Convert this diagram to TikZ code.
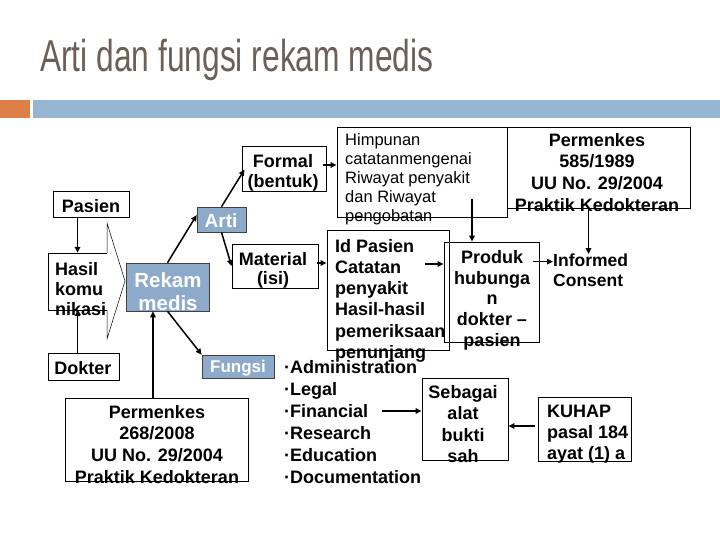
\documentclass[tikz,border=0pt]{standalone}
\usepackage{fontspec}
\setmainfont{Liberation Sans}
\newfontfamily\titlefont[FakeStretch=0.71]{Liberation Sans}
\usetikzlibrary{fit,arrows.meta}
\definecolor{titlegray}{HTML}{6B5F5A}
\definecolor{barorange}{HTML}{DD8047}
\definecolor{barblue}{HTML}{94B6D2}
\definecolor{boxblue}{HTML}{8DAACB}
\begin{document}
\begin{tikzpicture}[x=1pt,y=-1pt,
  box/.style={draw=black, line width=0.9pt, inner sep=0pt},
  bluebox/.style={draw=black!75, line width=0.6pt, fill=boxblue, inner sep=0pt},
  arr/.style={line width=1.5pt, -{Triangle[length=6pt,width=5.5pt]}},
  lbl/.style={inner sep=0pt, align=center, font=\bfseries\fontsize{18}{21.6}\selectfont},
  lbll/.style={inner sep=0pt, align=left, font=\bfseries\fontsize{18}{21.2}\selectfont},
  wlbl/.style={inner sep=0pt, align=center, text=white, font=\bfseries\fontsize{17}{20}\selectfont}]
\useasboundingbox (0,0) rectangle (720,540);
\fill[white] (0,0) rectangle (720,540);
% title and bars
\node[anchor=base west, inner sep=0pt, text=titlegray, font=\titlefont\fontsize{44.7}{50}\selectfont] (title) at (40,72) {Arti dan fungsi rekam medis};
\fill[barorange] (0,100) rectangle (30,118);
\fill[barblue] (33,100) rectangle (720,118);

% boxes
\node[box, fit={(53,191) (129,217)}] (pasien) {};
\node[inner sep=0pt, fit={(48,253) (107,310)}] (hasil) {};
\draw[line width=0.9pt] (107,253) -- (48,253) -- (48,310) -- (107,310);
\draw[line width=0.5pt] (107,253) -- (107,223) -- (125,281) -- (107,339) -- (107,310);
\node[bluebox, fit={(126,263) (209,311)}] (rekam) {};
\node[bluebox, fit={(197,207) (246,232)}] (arti) {};
\node[bluebox, fit={(202,355) (274,378)}] (fungsi) {};
\node[box, fit={(48,353) (119,380)}] (dokter) {};
\node[box, fit={(65,398) (248,481)}] (permA) {};
\node[box, fit={(242,146) (326,191)}] (formal) {};
\node[box, fit={(232,244) (318,288)}] (material) {};
\node[box, fit={(337,127) (507,217)}] (himp) {};
\node[box, fit={(507,127) (690,208)}] (permB) {};
\node[box, fit={(327,230) (449,350)}] (idbox) {};
\node[box, fit={(444,242) (539,342)}] (produk) {};
\node[box, fit={(422,378) (508,460)}] (sebagai) {};
\node[box, fit={(538,397) (631,461)}] (kuhap) {};

% texts
\node[lbl, anchor=base] (tPasien) at (91,212) {Pasien};
\node[lbll, anchor=north west, font=\bfseries\fontsize{18}{20}\selectfont] (tHasil) at (55,262) {Hasil\\komu\\nikasi};
\node[wlbl, anchor=north, font=\bfseries\fontsize{20.5}{23}\selectfont] (tRekam) at (168,272) {Rekam\\medis};
\node[wlbl, anchor=base, font=\bfseries\fontsize{19}{22}\selectfont] (tArti) at (221,227) {Arti};
\node[wlbl, anchor=base] (tFungsi) at (238,372) {Fungsi};
\node[lbl, anchor=base] (tDokter) at (83,374) {Dokter};
\node[lbl, anchor=north] (tPermA) at (157,405) {Permenkes\\268/2008\\UU No. 29/2004\\Praktik Kedokteran};
\node[lbl, anchor=north, font=\bfseries\fontsize{18}{20}\selectfont] (tFormal) at (283,154) {Formal\\(bentuk)};
\node[lbl, anchor=north, font=\bfseries\fontsize{18}{19.5}\selectfont] (tMaterial) at (273,252) {Material\\(isi)};
\node[inner sep=0pt, anchor=north west, align=left, font=\fontsize{16.5}{19}\selectfont] (tHimp) at (345,133) {Himpunan\\catatanmengenai\\Riwayat penyakit\\dan Riwayat\\pengobatan};
\node[lbl, anchor=north] (tPermB) at (597,133) {Permenkes\\585/1989\\UU No. 29/2004\\Praktik Kedokteran};
\node[lbll, anchor=north west] (tId) at (335,239) {Id Pasien\\Catatan\\penyakit\\Hasil-hasil\\pemeriksaan\\penunjang};
\node[lbl, anchor=north, font=\bfseries\fontsize{18}{20.8}\selectfont] (tProduk) at (492,250) {Produk\\hubunga\\n\\dokter –\\pasien};
\node[lbll, anchor=north west, font=\bfseries\fontsize{17.5}{20}\selectfont] (informed) at (553,254) {Informed\\Consent};
\node[lbl, anchor=north, font=\bfseries\fontsize{18}{21.5}\selectfont] (tSebagai) at (463,385) {Sebagai\\alat\\bukti\\sah};
\node[lbll, anchor=north west, font=\bfseries\fontsize{18}{21}\selectfont] (tKuhap) at (547,405) {KUHAP\\pasal 184\\ayat (1) a};
\node[lbll, anchor=north west, font=\bfseries\fontsize{18}{22}\selectfont] (bullets) at (284,360) {·Administration\\·Legal\\·Financial\\·Research\\·Education\\·Documentation};

% connectors
\draw[arr] (pasien.south -| hasil.north) -- (hasil.north);
\draw[arr] (dokter.north -| hasil.south) -- (hasil.south);
\draw[arr] ([xshift=-14.5pt]permA.north -| rekam.south) -- ([xshift=-14.5pt]rekam.south);
\draw[arr] (rekam.north) -- ([yshift=4.5pt]arti.west);
\draw[arr] (rekam.south) -- (fungsi.north west);
\draw[arr] (arti.north) -- ([xshift=3pt,yshift=-1pt]formal.west);
\draw[arr] (arti.south) -- (material.west);
\draw[arr] ([xshift=-3pt,yshift=3.5pt]formal.east) -- ([yshift=3.5pt]formal.east -| himp.west);
\draw[arr] ([xshift=-1pt,yshift=3pt]material.east) -- ([yshift=3pt]material.east -| idbox.west);
\draw[arr] ([xshift=-19.5pt,yshift=18pt]himp.south -| produk.north) -- ([xshift=-19.5pt]produk.north);
\draw[arr] ([xshift=-10pt]permB.south) -- ([xshift=-10pt]permB.south |- informed.north);
\draw[arr] ([xshift=-19pt,yshift=28pt]produk.west) -- ([yshift=28pt]produk.west);
\draw[arr] ([xshift=-6pt,yshift=9pt]produk.east |- informed.west) -- ([yshift=9pt]informed.west);
\draw[arr] ([xshift=-40pt,yshift=8pt]sebagai.west) -- ([yshift=8pt]sebagai.west);
\draw[arr] ([xshift=-3pt,yshift=3pt]kuhap.west) -- ([yshift=3pt]kuhap.west -| sebagai.east);
\end{tikzpicture}
\end{document}
